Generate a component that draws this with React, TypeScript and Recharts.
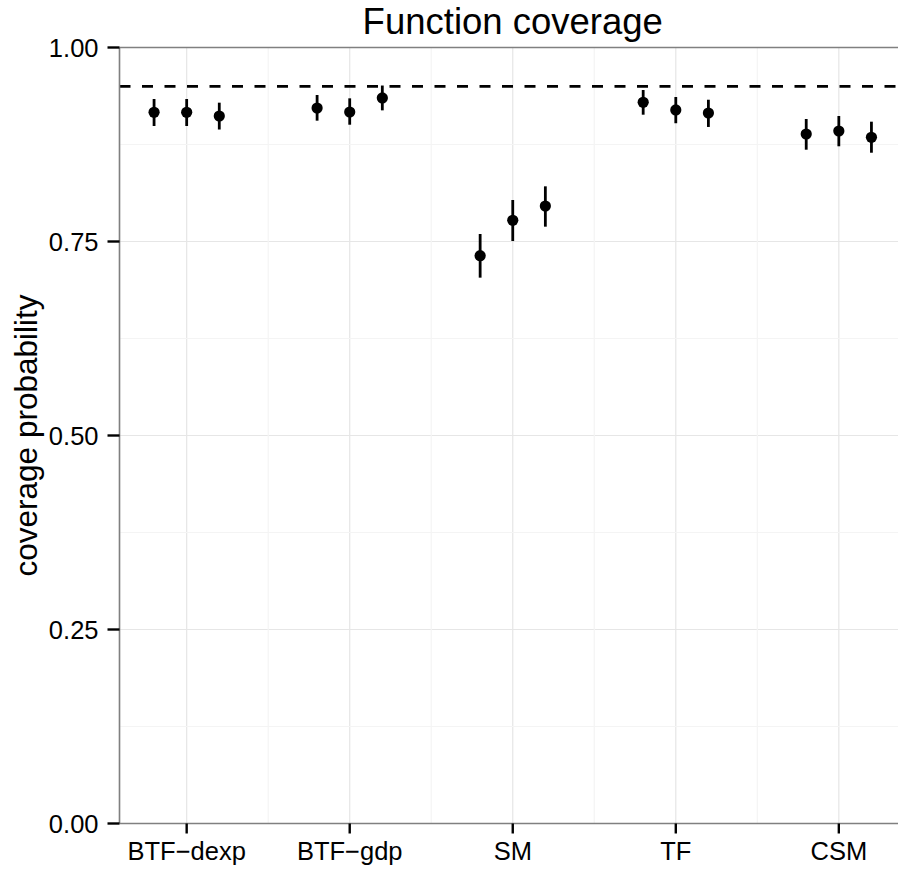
import React from 'react';
import {
  ComposedChart,
  Scatter,
  XAxis,
  YAxis,
  CartesianGrid,
  ReferenceLine,
  ErrorBar,
} from 'recharts';

// Methods along the x axis
const categories = ['BTF\u2212dexp', 'BTF\u2212gdp', 'SM', 'TF', 'CSM'];

// Three dodged estimates per method: point estimate with lower/upper interval
const estA = [0.9165, 0.922, 0.7317, 0.9294, 0.8885];
const lowA = [0.8988, 0.9057, 0.7034, 0.9134, 0.8683];
const highA = [0.9336, 0.9388, 0.7597, 0.9452, 0.9079];

const estB = [0.9165, 0.9169, 0.7773, 0.9195, 0.8924];
const lowB = [0.8988, 0.9005, 0.7506, 0.9024, 0.8727];
const highB = [0.9336, 0.9345, 0.8035, 0.9362, 0.9117];

const estC = [0.9117, 0.935, 0.7957, 0.9156, 0.8843];
const lowC = [0.8943, 0.919, 0.7691, 0.8976, 0.8644];
const highC = [0.9289, 0.951, 0.8211, 0.9327, 0.9044];

const dodge = [-0.2, 0, 0.2];
const nominal = 0.95;

const yTicks = [0, 0.25, 0.5, 0.75, 1];
const yMinor = [0.125, 0.375, 0.625, 0.875];
const xTicks = [1, 2, 3, 4, 5];
const xMinor = [1.5, 2.5, 3.5, 4.5];

const buildSeries = (est: number[], low: number[], high: number[], offset: number) =>
  est.map((v, i) => ({
    x: i + 1 + offset,
    y: v,
    err: [v - low[i], high[i] - v],
  }));

const seriesA = buildSeries(estA, lowA, highA, dodge[0]);
const seriesB = buildSeries(estB, lowB, highB, dodge[1]);
const seriesC = buildSeries(estC, lowC, highC, dodge[2]);

const FONT = '"Liberation Sans", Arial, Helvetica, sans-serif';
const AXIS_GREY = '#808080';
const MAJOR_GRID = '#e6e6e6';
const MINOR_GRID = '#f4f4f4';
const TICK_FONT = 25.5;

const Dot = (props: any) => {
  const { cx, cy } = props;
  if (cx == null || cy == null) return null;
  return <circle cx={cx} cy={cy} r={5.6} fill="#000" />;
};

const YLabel = (props: any) => {
  const vb = props.viewBox || {};
  const x = (vb.x ?? 0) + 37;
  const y = (vb.y ?? 0) + (vb.height ?? 0) / 2;
  return (
    <text
      x={x}
      y={y}
      transform={`rotate(-90, ${x}, ${y})`}
      textAnchor="middle"
      fontSize={31.5}
      fontFamily={FONT}
      fill="#000"
    >
      coverage probability
    </text>
  );
};

export default function App() {
  return (
    <div
      style={{
        position: 'absolute',
        left: 0,
        top: 0,
        width: 898,
        height: 870,
        overflow: 'hidden',
        background: '#fff',
        fontFamily: FONT,
      }}
    >
      <svg
        width={898}
        height={50}
        style={{ position: 'absolute', left: 0, top: 0 }}
      >
        <text
          x={512.75}
          y={34}
          textAnchor="middle"
          fontSize={36.5}
          fontFamily={FONT}
          fill="#000"
        >
          Function coverage
        </text>
      </svg>
      <ComposedChart
        width={912}
        height={870}
        margin={{ top: 47.5, right: 6, bottom: 0, left: 0 }}
        style={{ position: 'absolute', left: 0, top: 0 }}
      >
        {xMinor.map((v) => (
          <ReferenceLine key={`mx${v}`} x={v} stroke={MINOR_GRID} strokeWidth={1.2} />
        ))}
        {yMinor.map((v) => (
          <ReferenceLine key={`my${v}`} y={v} stroke={MINOR_GRID} strokeWidth={1.2} />
        ))}
        <CartesianGrid stroke={MAJOR_GRID} strokeWidth={1.2} />
        <XAxis
          type="number"
          dataKey="x"
          domain={[0.588, 5.412]}
          ticks={xTicks}
          allowDataOverflow
          tickFormatter={(v: number) => categories[Math.round(v) - 1] ?? ''}
          height={46.5}
          tickSize={10}
          tickMargin={8}
          axisLine={{ stroke: AXIS_GREY, strokeWidth: 1.6 }}
          tickLine={{ stroke: '#000', strokeWidth: 2.4 }}
          tick={{ fill: '#000', fontSize: TICK_FONT, fontFamily: FONT }}
          interval={0}
        />
        <YAxis
          type="number"
          dataKey="y"
          domain={[0, 1]}
          ticks={yTicks}
          allowDataOverflow
          tickFormatter={(v: number) => v.toFixed(2)}
          width={119.5}
          tickSize={12}
          tickMargin={9}
          axisLine={{ stroke: AXIS_GREY, strokeWidth: 1.6 }}
          tickLine={{ stroke: '#000', strokeWidth: 2.4 }}
          tick={{ fill: '#000', fontSize: TICK_FONT, fontFamily: FONT }}
          interval={0}
          label={<YLabel />}
        />
        <ReferenceLine y={1} stroke={AXIS_GREY} strokeWidth={1.6} />
        <ReferenceLine
          y={nominal}
          stroke="#000"
          strokeWidth={2.8}
          strokeDasharray="11 11.5"
        />
        <Scatter data={seriesA} dataKey="y" shape={<Dot />} isAnimationActive={false}>
          <ErrorBar dataKey="err" direction="y" width={0} stroke="#000" strokeWidth={2.8} isAnimationActive={false} />
        </Scatter>
        <Scatter data={seriesB} dataKey="y" shape={<Dot />} isAnimationActive={false}>
          <ErrorBar dataKey="err" direction="y" width={0} stroke="#000" strokeWidth={2.8} isAnimationActive={false} />
        </Scatter>
        <Scatter data={seriesC} dataKey="y" shape={<Dot />} isAnimationActive={false}>
          <ErrorBar dataKey="err" direction="y" width={0} stroke="#000" strokeWidth={2.8} isAnimationActive={false} />
        </Scatter>
      </ComposedChart>
    </div>
  );
}
